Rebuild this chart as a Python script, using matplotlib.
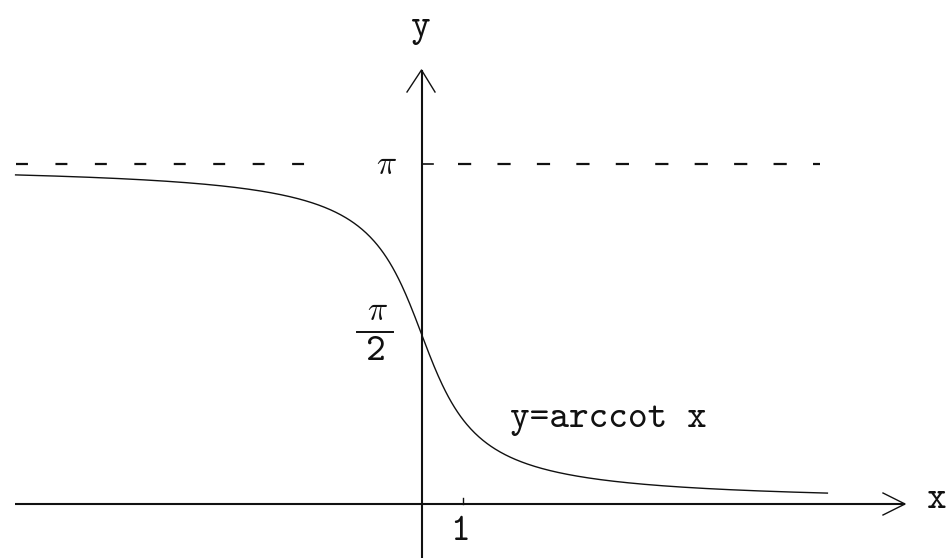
import numpy as np
import matplotlib
matplotlib.use("Agg")
import matplotlib.pyplot as plt

plt.rcParams["lines.scale_dashes"] = False
plt.rcParams["mathtext.fontset"] = "cm"

# Curve domain (x units) and the asymptote level
x_domain = [-9.9, 9.9]
asymptote = np.pi
half_pi = np.pi / 2
tick_values = [1]
curve_label = "y=arccot x"

# Figure geometry: pixels per unit along each axis, origin position in pixels
W, H = 947, 558
ox, oy = 421.5, 504.0
kx, ky = 41.0, 340.0 / np.pi


def dx(p):
    return (p - ox) / kx


def dy(p):
    return (oy - p) / ky


fig = plt.figure(figsize=(W / 100, H / 100), dpi=100)
ax = fig.add_axes([0, 0, 1, 1])
ax.set_xlim(dx(0), dx(W))
ax.set_ylim(dy(H), dy(0))
ax.axis("off")

ink = "#111111"
font = dict(family="cmtt10", color=ink)

# Axes with open arrowheads
ax.plot([dx(15), dx(905)], [0, 0], color=ink, lw=1.5, solid_capstyle="butt")
ax.plot([0, 0], [dy(H), dy(70)], color=ink, lw=1.5, solid_capstyle="butt")
ax.plot([dx(883), dx(905), dx(883)], [dy(493), 0, dy(515)], color=ink, lw=1.0)
ax.plot([dx(407), 0, dx(435)], [dy(92), dy(70), dy(92)], color=ink, lw=1.0)

# Ticks
for t in tick_values:
    ax.plot([t, t], [0, dy(498)], color=ink, lw=1.0)
    ax.text(t - dx(424), dy(533), str(t), ha="center", va="center", fontsize=27, **font)
ax.plot([0, dx(433)], [asymptote, asymptote], color=ink, lw=1.2)

# Horizontal asymptote y = pi
ax.plot([x_domain[0], dx(330)], [asymptote, asymptote], color=ink, lw=1.6,
        dashes=(8.6, 19.8))
ax.plot([dx(458), dx(820)], [asymptote, asymptote], color=ink, lw=1.6,
        dashes=(9.5, 18.9))

# y = arccot x
xs = np.linspace(x_domain[0], x_domain[1], 800)
ys = np.pi / 2 - np.arctan(xs)
ax.plot(xs, ys, color=ink, lw=1.0)

# Labels
ax.text(dx(386), asymptote, r"$\pi$", ha="center", va="center", fontsize=24, color=ink)
ax.text(dx(377), dy(310), r"$\pi$", ha="center", va="center", fontsize=24, color=ink)
ax.plot([dx(357), dx(393)], [dy(332), dy(332)], color=ink, lw=1.4)
ax.text(dx(376), dy(353), "2", ha="center", va="center", fontsize=27, **font)

ax.text(dx(420), dy(28), "y", ha="center", va="center", fontsize=27, **font)
ax.text(dx(937), dy(500), "x", ha="center", va="center", fontsize=27, **font)
ax.text(dx(510), dy(427), curve_label, ha="left", va="baseline", fontsize=27, **font)

fig.savefig("out.png", dpi=100, facecolor="white")
